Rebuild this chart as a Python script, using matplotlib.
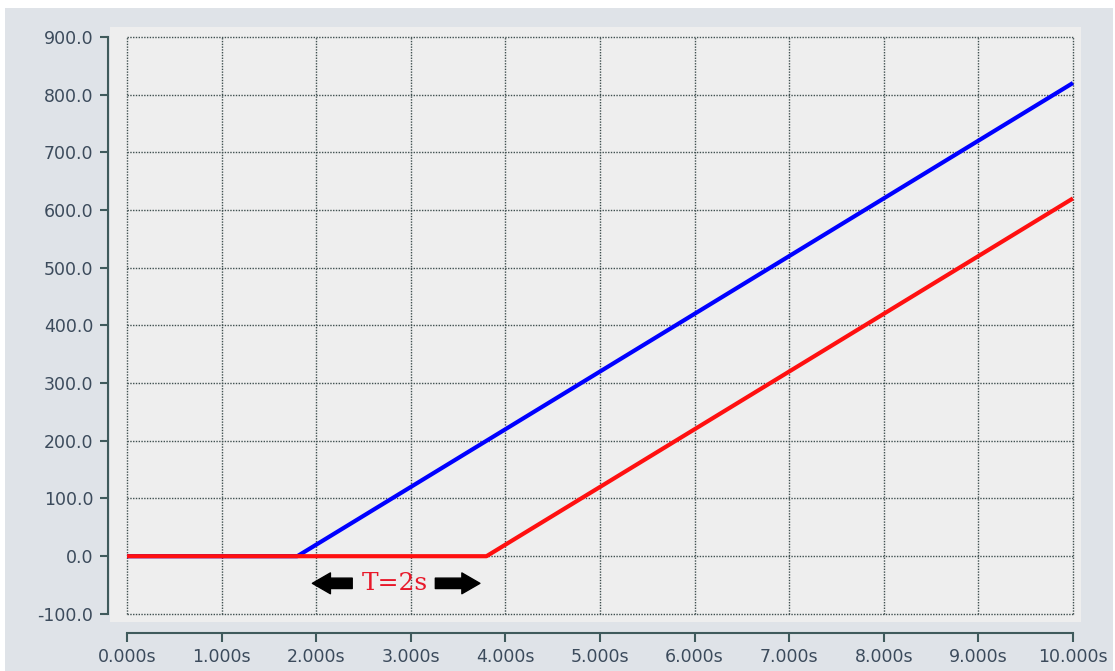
import numpy as np
import matplotlib.pyplot as plt
from matplotlib.patches import FancyArrowPatch, Rectangle
from matplotlib.ticker import FormatStrFormatter

#%% data
blue_t   = [0.0, 1.8, 10.0]
blue_val = [0.0, 0.0, 820.0]
red_t    = [0.0, 3.8, 10.0]
red_val  = [0.0, 0.0, 620.0]
x_ticks  = np.arange(0, 11, 1)
y_ticks  = np.arange(-100, 1000, 100)
delay_label = 'T=2s'

#%% figure
fig = plt.figure(figsize=(11.15, 6.71), dpi=100)
fig.patch.set_facecolor('white')
# grey panel behind the plot (white strip left at the top)
fig.add_artist(Rectangle((5/1115, 0), 1108/1115, 663/671, transform=fig.transFigure,
                         facecolor='#dfe3e8', edgecolor='none', zorder=-10))

ax = fig.add_axes([110/1115, 1-622/671, 971/1115, 595/671])
ax.set_facecolor('#eeeeee')

axis_col = '#3f5a5c'
lab_col = '#3c4b5c'

ax.set_xlim(-0.18, 10.085)
ax.set_ylim(-114, 917)
ax.set_xticks(x_ticks)
ax.set_yticks(y_ticks)
ax.xaxis.set_major_formatter(FormatStrFormatter('%.3fs'))
ax.yaxis.set_major_formatter(FormatStrFormatter('%.1f'))

for s in ['top', 'right']:
    ax.spines[s].set_visible(False)
ax.spines['left'].set_position(('outward', 1.5))
ax.spines['bottom'].set_position(('outward', 8))
ax.spines['left'].set_bounds(y_ticks[0], y_ticks[-1])
ax.spines['bottom'].set_bounds(x_ticks[0], x_ticks[-1])
for s in ['left', 'bottom']:
    ax.spines[s].set_color(axis_col)
    ax.spines[s].set_linewidth(1.5)

ax.tick_params(axis='both', direction='out', color=axis_col, width=1.5,
               labelcolor=lab_col, labelsize=12.5)
ax.tick_params(axis='y', length=5.5, pad=5)
ax.tick_params(axis='x', length=6.5, pad=4)

# dotted grid only inside the tick range (forms a dotted frame)
grid_kw = dict(color='#3f4f4f', linestyle=(0, (1, 1)), linewidth=1, zorder=1)
ax.vlines(x_ticks, y_ticks[0], y_ticks[-1], **grid_kw)
ax.hlines(y_ticks, x_ticks[0], x_ticks[-1], **grid_kw)

# the two signals, red (delayed) drawn on top
ax.plot(blue_t, blue_val, color='#0000ff', linewidth=3, solid_capstyle='butt', zorder=3)
ax.plot(red_t, red_val, color='#ff1010', linewidth=3, solid_capstyle='butt', zorder=4)

# delay marker
ax.text(2.83, -47, delay_label, color='#e8182a', fontsize=18, family='DejaVu Serif',
        ha='center', va='center', zorder=5)
for tail, head in [(2.41, 1.93), (3.23, 3.76)]:
    arr = FancyArrowPatch((tail, -47), (head, -47),
                          arrowstyle='simple,head_width=1.5,head_length=1.3,tail_width=0.75',
                          mutation_scale=10, color='black', zorder=5)
    ax.add_patch(arr)

fig.savefig('out.png', dpi=100, facecolor=fig.get_facecolor())
